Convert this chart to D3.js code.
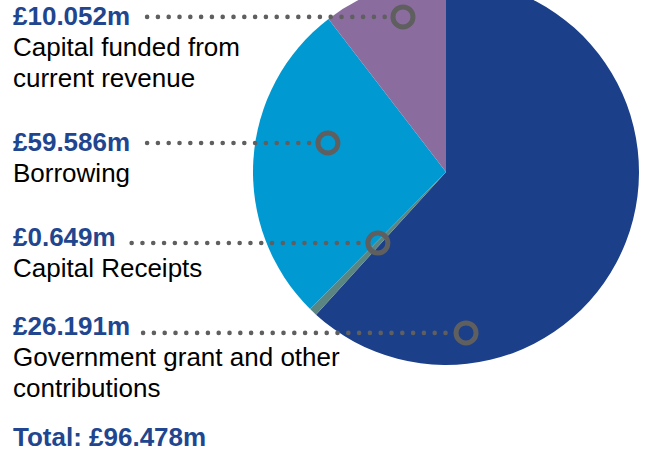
<!DOCTYPE html>
<html><head><meta charset="utf-8">
<script src="https://cdn.jsdelivr.net/npm/d3@7"></script>
<style>html,body{margin:0;padding:0;background:#fff;overflow:hidden}</style>
</head><body>
<svg id="chart" width="646" height="452"></svg>
<script>
// ---- data ----
const categories = ["Capital funded from current revenue", "Borrowing", "Capital Receipts", "Government grant and other contributions"];
const values = [10.052, 59.586, 0.649, 26.191];
const valueLabels = ["£10.052m", "£59.586m", "£0.649m", "£26.191m"];
const labelLines = [["Capital funded from", "current revenue"], ["Borrowing"], ["Capital Receipts"], ["Government grant and other", "contributions"]];
const totalLabel = "Total: £96.478m";

// ---- layout / style ----
const W = 646, H = 452;
const cx = 446, cy = 172, R = 193;
const pieOrder = [1, 2, 3, 0]; // clockwise from 12 o'clock
const colors = ["#8b6c9f", "#1c3f89", "#5b8581", "#0099d1"];
const blue = "#21468f", grey = "#5f5f5f";
const fontFam = "'Liberation Sans', Arial, sans-serif";
const rowBaseline = [25, 151, 246, 335];
const lineGap = 31;
const dotGap = [17, 17, 16, 13];
// marker position for each label row: [angle in degrees clockwise from top, radius fraction]
const markerPolar = [[344.5, 0.834], [283.8, 0.63], [223.8, 0.51], [172.9, 0.84]];

const svg = d3.select("#chart");

const pie = d3.pie().sort(null).value(i => values[i]).startAngle(0).endAngle(2 * Math.PI);
const arc = d3.arc().innerRadius(0).outerRadius(R);
const g = svg.append("g").attr("transform", `translate(${cx},${cy})`);
g.selectAll("path").data(pie(pieOrder)).join("path")
  .attr("d", arc).attr("fill", d => colors[d.data]);

// labels
categories.forEach((c, i) => {
  const vt = svg.append("text").attr("x", 13).attr("y", rowBaseline[i])
    .attr("font-family", fontFam).attr("font-size", 26).attr("font-weight", "bold")
    .attr("fill", blue).text(valueLabels[i]);
  labelLines[i].forEach((l, j) => {
    svg.append("text").attr("x", 13).attr("y", rowBaseline[i] + lineGap * (j + 1))
      .attr("font-family", fontFam).attr("font-size", 26).attr("fill", "#000").text(l);
  });
  const [deg, rf] = markerPolar[i];
  const a = deg * Math.PI / 180;
  const mx = cx + Math.sin(a) * R * rf, my = cy - Math.cos(a) * R * rf;
  const x0 = 13 + vt.node().getComputedTextLength() + dotGap[i];
  svg.append("line").attr("x1", x0).attr("x2", mx - 12).attr("y1", my).attr("y2", my)
    .attr("stroke", grey).attr("stroke-width", 4.6).attr("stroke-linecap", "round")
    .attr("stroke-dasharray", "0 10.8");
  svg.append("circle").attr("cx", mx).attr("cy", my).attr("r", 10)
    .attr("fill", "none").attr("stroke", grey).attr("stroke-width", 5);
});

svg.append("text").attr("x", 13).attr("y", 446)
  .attr("font-family", fontFam).attr("font-size", 26).attr("font-weight", "bold")
  .attr("fill", blue).text(totalLabel);
</script>
</body></html>
